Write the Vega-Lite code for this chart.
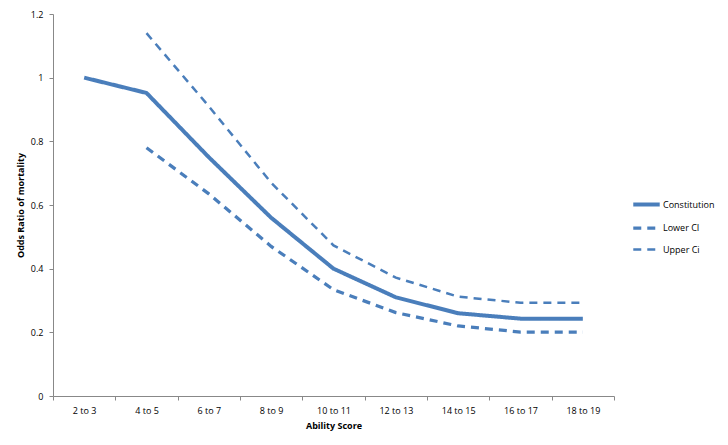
{
  "$schema": "https://vega.github.io/schema/vega-lite/v6.json",
  "width": 561,
  "height": 382,
  "autosize": {"type": "none"},
  "padding": {"left": 53, "top": 14, "right": 114, "bottom": 49},
  "background": "white",
  "config": {
    "view": {"stroke": null},
    "font": "Open Sans",
    "axis": {"labelFont": "Open Sans", "titleFont": "Open Sans", "labelFontSize": 9, "titleFontSize": 9, "labelColor": "#000", "titleColor": "#000", "domainColor": "#888", "tickColor": "#888", "grid": false}
  },
  "data": {
    "values": [
      {"score": "2 to 3", "series": "Constitution", "value": 1.0},
      {"score": "4 to 5", "series": "Constitution", "value": 0.952},
      {"score": "6 to 7", "series": "Constitution", "value": 0.75},
      {"score": "8 to 9", "series": "Constitution", "value": 0.56},
      {"score": "10 to 11", "series": "Constitution", "value": 0.40},
      {"score": "12 to 13", "series": "Constitution", "value": 0.31},
      {"score": "14 to 15", "series": "Constitution", "value": 0.26},
      {"score": "16 to 17", "series": "Constitution", "value": 0.243},
      {"score": "18 to 19", "series": "Constitution", "value": 0.243},
      {"score": "4 to 5", "series": "Lower CI", "value": 0.78},
      {"score": "6 to 7", "series": "Lower CI", "value": 0.635},
      {"score": "8 to 9", "series": "Lower CI", "value": 0.47},
      {"score": "10 to 11", "series": "Lower CI", "value": 0.334},
      {"score": "12 to 13", "series": "Lower CI", "value": 0.262},
      {"score": "14 to 15", "series": "Lower CI", "value": 0.22},
      {"score": "16 to 17", "series": "Lower CI", "value": 0.201},
      {"score": "18 to 19", "series": "Lower CI", "value": 0.201},
      {"score": "4 to 5", "series": "Upper Ci", "value": 1.14},
      {"score": "6 to 7", "series": "Upper Ci", "value": 0.91},
      {"score": "8 to 9", "series": "Upper Ci", "value": 0.67},
      {"score": "10 to 11", "series": "Upper Ci", "value": 0.473},
      {"score": "12 to 13", "series": "Upper Ci", "value": 0.372},
      {"score": "14 to 15", "series": "Upper Ci", "value": 0.312},
      {"score": "16 to 17", "series": "Upper Ci", "value": 0.293},
      {"score": "18 to 19", "series": "Upper Ci", "value": 0.293}
    ]
  },
  "mark": {"type": "line", "color": "#4a7ebb", "strokeCap": "butt"},
  "encoding": {
    "x": {
      "field": "score", "type": "ordinal", "sort": null, "bandPosition": 0.5,
      "scale": {"type": "band", "paddingInner": 0, "paddingOuter": 0},
      "axis": {"title": "Ability Score", "labelAngle": 0, "tickBand": "extent", "tickSize": 4, "labelPadding": 6, "titlePadding": 6}
    },
    "y": {
      "field": "value", "type": "quantitative",
      "scale": {"domain": [0, 1.2], "nice": false, "zero": true},
      "axis": {"title": "Odds Ratio of mortality", "format": "~g", "values": [0, 0.2, 0.4, 0.6, 0.8, 1.0, 1.2], "tickSize": 4, "labelPadding": 6, "titlePadding": 5}
    },
    "strokeDash": {
      "field": "series", "type": "nominal",
      "scale": {"domain": ["Constitution", "Lower CI", "Upper Ci"], "range": [[1, 0], [8, 6], [8, 6]]},
      "legend": {"title": null, "orient": "none", "legendX": 578, "legendY": 175, "symbolType": "stroke", "symbolStrokeColor": "#4a7ebb", "symbolSize": 700, "labelFontSize": 9, "labelFont": "Open Sans", "rowPadding": -10, "labelOffset": 1}
    },
    "strokeWidth": {
      "field": "series", "type": "nominal",
      "scale": {"domain": ["Constitution", "Lower CI", "Upper Ci"], "range": [4, 2.5, 2.5]},
      "legend": {"title": null, "orient": "none", "legendX": 578, "legendY": 175, "symbolType": "stroke", "symbolStrokeColor": "#4a7ebb", "symbolSize": 700, "labelFontSize": 9, "labelFont": "Open Sans", "rowPadding": -10, "labelOffset": 1}
    }
  }
}
